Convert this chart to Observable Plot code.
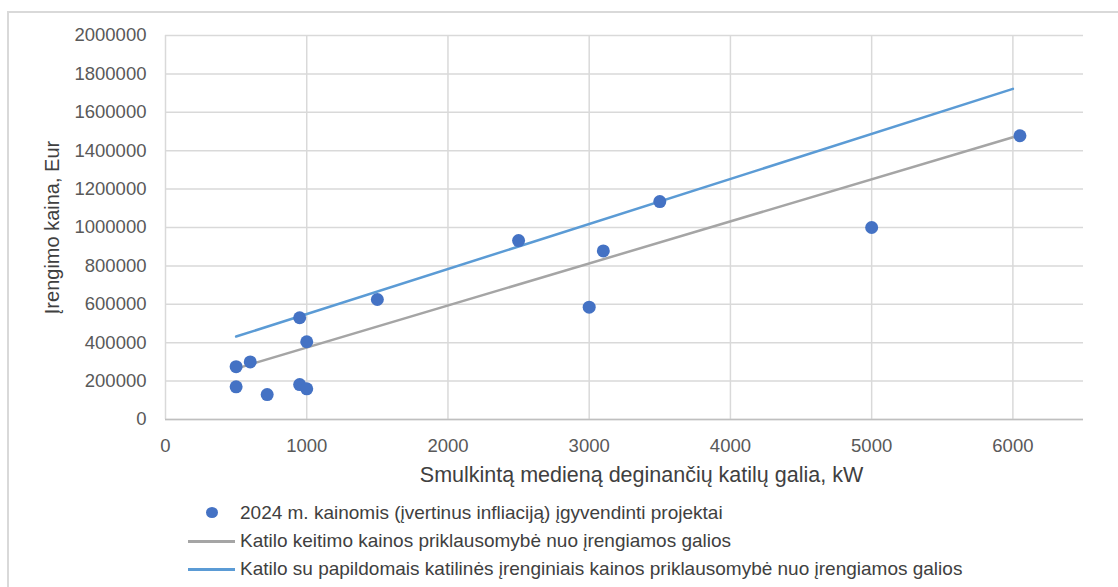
<!DOCTYPE html>
<html>
<head>
<meta charset="utf-8">
<script src="https://cdn.jsdelivr.net/npm/d3@7"></script>
<script src="https://cdn.jsdelivr.net/npm/@observablehq/plot@0.6"></script>
<style>
  html, body { margin: 0; padding: 0; background: #fff; width: 1118px; height: 587px; overflow: hidden; }
  body { position: relative; font-family: "Liberation Sans", "DejaVu Sans", sans-serif; }
  #frame { position: absolute; left: 7px; top: 11px; width: 1200px; height: 700px; border: 2px solid #d9d9d9; box-sizing: border-box; }
  #chart { position: absolute; left: 0; top: 0; }
  .leg { position: absolute; left: 0; top: 0; width: 1118px; height: 587px; pointer-events: none; }
  .row { position: absolute; left: 240px; font-size: 19px; color: #404040; white-space: nowrap; line-height: 22px; }
  .dot { position: absolute; width: 12px; height: 11px; border-radius: 50%; background: #4472c4; }
  .ln { position: absolute; height: 3px; }
</style>
</head>
<body>
<div id="frame"></div>
<div id="chart"></div>
<div class="leg" id="legend"></div>
<script>
// Data
const capacityKW = [500, 500, 600, 720, 950, 950, 1000, 1000, 1500, 2500, 3000, 3100, 3500, 5000, 6050];
const priceEur = [275000, 170000, 300000, 130000, 530000, 182000, 405000, 160000, 625000, 932000, 585000, 878000, 1135000, 1000000, 1478000];
const grayLineX = [500, 6000];
const grayLineY = [265000, 1470000];
const blueLineX = [500, 6000];
const blueLineY = [432000, 1722000];
const xTicks = [0, 1000, 2000, 3000, 4000, 5000, 6000];
const yTicks = [0, 200000, 400000, 600000, 800000, 1000000, 1200000, 1400000, 1600000, 1800000, 2000000];
const xTitle = "Smulkintą medieną deginančių katilų galia, kW";
const yTitle = "Įrengimo kaina, Eur";
const legendLabels = [
  "2024 m. kainomis (įvertinus infliaciją) įgyvendinti projektai",
  "Katilo keitimo kainos priklausomybė nuo įrengiamos galios",
  "Katilo su papildomais katilinės įrenginiais kainos priklausomybė nuo įrengiamos galios"
];
const colors = { dots: "#4472c4", gray: "#a5a5a5", blue: "#5b9bd5" };

const points = capacityKW.map((x, i) => ({ x, y: priceEur[i] }));
const grayLine = grayLineX.map((x, i) => ({ x, y: grayLineY[i] }));
const blueLine = blueLineX.map((x, i) => ({ x, y: blueLineY[i] }));

const chart = Plot.plot({
  width: 1118,
  height: 500,
  marginTop: 35,
  marginLeft: 165,
  marginRight: 35,
  marginBottom: 81,
  style: { fontFamily: "Liberation Sans, DejaVu Sans, sans-serif", background: "transparent", color: "#595959", overflow: "visible" },
  x: { domain: [0, 6500] },
  y: { domain: [0, 2000000] },
  marks: [
    Plot.gridY(yTicks, { stroke: "#d9d9d9", strokeOpacity: 1, strokeWidth: 1.5 }),
    Plot.gridX(xTicks, { stroke: "#d9d9d9", strokeOpacity: 1, strokeWidth: 1.5 }),
    Plot.ruleY([0], { stroke: "#bfbfbf", strokeWidth: 1.5 }),
    Plot.axisY(yTicks, { tickSize: 0, tickPadding: 19, tickFormat: d => String(d), fontSize: 18.5, fill: "#595959", label: null }),
    Plot.axisX(xTicks, { tickSize: 0, tickPadding: 19, tickFormat: d => String(d), fontSize: 18.5, fill: "#595959", label: null }),
    Plot.text([yTitle], { frameAnchor: "left", textAnchor: "middle", dx: -113, rotate: -90, fontSize: 20, fill: "#404040" }),
    Plot.text([xTitle], { frameAnchor: "bottom", textAnchor: "middle", dy: 62, dx: 17, fontSize: 21.5, fill: "#404040" }),
    Plot.line(grayLine, { x: "x", y: "y", stroke: colors.gray, strokeWidth: 2.5 }),
    Plot.line(blueLine, { x: "x", y: "y", stroke: colors.blue, strokeWidth: 2.5 }),
    Plot.dot(points, { x: "x", y: "y", r: 6.5, fill: colors.dots, stroke: "none" })
  ]
});
document.getElementById("chart").appendChild(chart);

// Legend (below plot)
const leg = document.getElementById("legend");
const rowsY = [513, 541, 569];
legendLabels.forEach((t, i) => {
  const r = document.createElement("div");
  r.className = "row";
  r.style.top = (rowsY[i] - 11) + "px";
  r.textContent = t;
  leg.appendChild(r);
});
const dot = document.createElement("div");
dot.className = "dot";
dot.style.left = "206px"; dot.style.top = (rowsY[0] - 6) + "px";
leg.appendChild(dot);
[[colors.gray, rowsY[1]], [colors.blue, rowsY[2]]].forEach(([c, y]) => {
  const l = document.createElement("div");
  l.className = "ln";
  l.style.left = "188px"; l.style.width = "47px"; l.style.top = (y - 1.5) + "px";
  l.style.background = c;
  leg.appendChild(l);
});
</script>
</body>
</html>
